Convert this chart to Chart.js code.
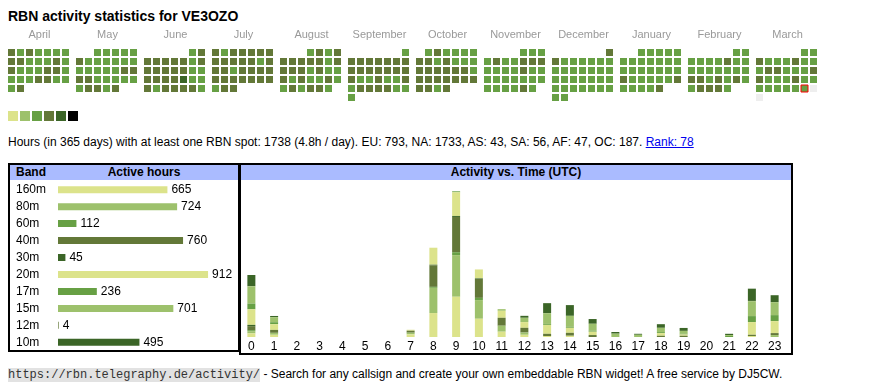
<!DOCTYPE html>
<html>
<head>
<meta charset="utf-8">
<script src="https://cdn.jsdelivr.net/npm/chart.js@4.4.1/dist/chart.umd.min.js"></script>
<style>
  body { margin: 0; background: #fff; color: #000; font-family: "Liberation Sans", Arial, sans-serif; font-size: 12px; }
  .abs { position: absolute; }
  h1 { position: absolute; left: 8px; top: 8px; margin: 0; font-size: 14px; line-height: 16px; font-weight: bold; }
  .info { left: 8px; top: 135px; line-height: 14px; white-space: nowrap; }
  .info a { color: #00e; }
  .box { border: 2px solid #000; box-sizing: border-box; }
  .head { position: absolute; left: 0; right: 0; top: 0; height: 15px; line-height: 15px; background: #aabbff; font-weight: bold; }
  .foot { left: 8px; top: 367px; line-height: 14px; white-space: nowrap; }
  .foot code { font-family: "Liberation Mono", monospace; font-size: 12px; background: #e2e2e2; color: #333; }
</style>
</head>
<body>
<h1>RBN activity statistics for VE3OZO</h1>
<canvas id="calendar" class="abs" style="left:0;top:26px" width="870" height="100"></canvas>
<div class="abs info">Hours (in 365 days) with at least one RBN spot: 1738 (4.8h / day). EU: 793, NA: 1733, AS: 43, SA: 56, AF: 47, OC: 187. <a href="#">Rank: 78</a></div>

<div class="abs box" style="left:8px;top:163px;width:232px;height:189px">
  <div class="head"><span class="abs" style="left:6px">Band</span><span class="abs" style="left:40px;width:188px;text-align:center">Active hours</span></div>
</div>
<canvas id="bands" class="abs" style="left:10px;top:174px" width="228" height="184"></canvas>

<div class="abs box" style="left:239px;top:163px;width:554px;height:192px">
  <div class="head" style="text-align:center">Activity vs. Time (UTC)</div>
</div>
<canvas id="activity" class="abs" style="left:240px;top:181px" width="546" height="173"></canvas>

<div class="abs foot"><code>https://rbn.telegraphy.de/activity/</code> - Search for any callsign and create your own embeddable RBN widget! A free service by DJ5CW.</div>

<script>
(function () {
  "use strict";

  // calendar: one string per month, one digit per day (activity level, 0 = no data yet)
  const months = ['April', 'May', 'June', 'July', 'August', 'September',
                  'October', 'November', 'December', 'January', 'February', 'March'];
  const firstYear = 2024, firstMonth = 3;
  const dayLevels = [
    '4343333 4433343 4333443 3334433 34',
    '33333 4333333 3333344 4433333 34434',
    '34 4444434 4444433 4444533 4344443',
    '4344444 4444434 4434444 4444444 344',
    '3434 4444434 4443433 4343343 343443',
    '3 4444444 4444444 4334334 3444433 3',
    '343333 4434333 4444443 4444444 4434',
    '333 3433444 3333433 3333333 333343',
    '4 4333333 3333333 3333333 3333333 33',
    '33333 3333333 3333333 4333334 33334',
    '33 3333433 3333333 4434343 34443',
    '33 4333433 3443334 4333433 3333330 0'
  ];
  const today = {month: 11, day: 29};
  const levelColors = ['#dce38b', '#9dc16c', '#67a044', '#637838', '#3b6527', '#000000'];

  // band table
  const bands = ['160m', '80m', '60m', '40m', '30m', '20m', '17m', '15m', '12m', '10m'];
  const bandHours = [665, 724, 112, 760, 45, 912, 236, 701, 4, 495];
  const bandColors = ['#dce38b', '#9dc16c', '#67a044', '#637838', '#3b6527',
                      '#dce38b', '#67a044', '#9dc16c', '#637838', '#3b6527'];

  // activity per UTC hour, per band
  const hours = ['0','1','2','3','4','5','6','7','8','9','10','11','12','13','14','15','16','17','18','19','20','21','22','23'];
  const h160m = [26, 16, 0, 0, 0, 0, 0, 19, 172, 289, 131, 38, 16, 7, 9, 0, 0, 0, 0, 0, 0, 0, 7, 0];
  const h80m  = [16, 14, 0, 0, 0, 0, 0, 12, 181, 299, 134, 43, 16, 0, 0, 0, 0, 0, 0, 0, 0, 0, 0, 14];
  const h60m  = [7, 0, 0, 0, 0, 0, 0, 0, 7, 21, 16, 0, 0, 0, 0, 0, 0, 0, 0, 0, 0, 0, 0, 0];
  const h40m  = [29, 21, 0, 0, 0, 0, 0, 14, 155, 253, 136, 57, 34, 16, 21, 14, 0, 0, 9, 9, 0, 0, 9, 14];
  const h30m  = [9, 0, 0, 0, 0, 0, 0, 0, 4, 7, 4, 0, 0, 0, 0, 0, 0, 0, 0, 0, 0, 0, 0, 0];
  const h20m  = [112, 41, 0, 0, 0, 0, 0, 7, 122, 170, 64, 50, 41, 64, 36, 24, 0, 0, 19, 9, 0, 0, 91, 86];
  const h17m  = [41, 14, 0, 0, 0, 0, 0, 0, 0, 7, 0, 0, 0, 7, 7, 7, 0, 0, 7, 5, 0, 7, 43, 43];
  const h15m  = [124, 36, 0, 0, 0, 0, 0, 0, 0, 0, 0, 12, 31, 77, 79, 50, 24, 16, 31, 21, 0, 7, 107, 93];
  const h12m  = [2, 0, 0, 0, 0, 0, 0, 0, 0, 0, 0, 0, 0, 0, 0, 0, 0, 0, 0, 0, 0, 0, 2, 0];
  const h10m  = [79, 9, 0, 0, 0, 0, 0, 0, 0, 0, 0, 0, 14, 72, 77, 34, 12, 7, 26, 21, 0, 9, 88, 50];
  const perBand = [h160m, h80m, h60m, h40m, h30m, h20m, h17m, h15m, h12m, h10m];

  Chart.defaults.font.family = '"Liberation Sans", Arial, sans-serif';
  Chart.defaults.font.size = 12;
  Chart.defaults.color = '#000';
  Chart.defaults.animation = false;
  Chart.defaults.plugins.legend.display = false;
  Chart.defaults.plugins.tooltip.enabled = false;

  // ---- calendar heatmap (scales in page pixels) ----
  const calLeft = 8, monthStride = 68, pitch = 9, cell = 7, rowTop = 49;
  const cells = [];
  dayLevels.forEach((str, m) => {
    const lv = str.replace(/ /g, '');
    const offset = (new Date(firstYear, firstMonth + m, 1).getDay() + 6) % 7;
    for (let i = 0; i < lv.length; i++) {
      const slot = offset + i;
      cells.push({
        x: calLeft + monthStride * m + pitch * (slot % 7) + cell / 2,
        y: rowTop + pitch * Math.floor(slot / 7) + cell / 2,
        level: +lv[i],
        today: m === today.month && i + 1 === today.day
      });
    }
  });
  const legendCells = levelColors.map((c, i) => ({x: 13 + 12 * i, y: 116, level: i + 1}));

  new Chart(document.getElementById('calendar'), {
    type: 'scatter',
    data: {
      datasets: [
        {
          data: cells,
          pointStyle: 'rect',
          pointRadius: cell / Math.SQRT2,
          pointHoverRadius: cell / Math.SQRT2,
          backgroundColor: c => c.raw && c.raw.level ? levelColors[c.raw.level - 1] : '#eeeeee',
          borderColor: '#ff0000',
          borderWidth: c => c.raw && c.raw.today ? 1 : 0
        },
        {
          data: legendCells,
          pointStyle: 'rect',
          pointRadius: 10 / Math.SQRT2,
          pointHoverRadius: 10 / Math.SQRT2,
          backgroundColor: c => c.raw ? levelColors[c.raw.level - 1] : '#000',
          borderWidth: 0
        }
      ]
    },
    options: {
      responsive: false,
      events: [],
      layout: {autoPadding: false},
      scales: {
        x: {
          type: 'linear', position: 'top', min: 0, max: 870,
          grid: {display: false, drawTicks: false}, border: {display: false},
          afterBuildTicks: s => { s.ticks = months.map((_, m) => ({value: calLeft + monthStride * m + 31.5})); },
          afterFit: s => { s.height = 20; },
          ticks: {
            autoSkip: false, maxRotation: 0, padding: 4, color: '#999', font: {size: 11},
            callback: (v, i) => months[i]
          }
        },
        y: {type: 'linear', min: 46, max: 126, reverse: true, display: false}
      }
    }
  });

  // ---- band table bars ----
  const valueLabels = {
    id: 'valueLabels',
    afterDatasetsDraw(chart) {
      const ctx = chart.ctx;
      ctx.save();
      ctx.font = '12px "Liberation Sans", Arial, sans-serif';
      ctx.fillStyle = '#000';
      ctx.textBaseline = 'middle';
      chart.getDatasetMeta(0).data.forEach((bar, i) => ctx.fillText(bandHours[i], bar.x + 4, bar.y));
      ctx.restore();
    }
  };

  new Chart(document.getElementById('bands'), {
    type: 'bar',
    data: {
      labels: bands,
      datasets: [{data: bandHours, backgroundColor: bandColors, barThickness: 7, borderWidth: 0, inflateAmount: 0}]
    },
    options: {
      responsive: false,
      events: [],
      indexAxis: 'y',
      layout: {padding: {left: 6}},
      scales: {
        x: {display: false, min: 0, max: 1094},
        y: {
          grid: {display: false, drawTicks: false}, border: {display: false},
          afterFit: s => { s.width = 42; },
          ticks: {crossAlign: 'far', padding: 0, autoSkip: false}
        }
      }
    },
    plugins: [valueLabels]
  });

  // ---- activity vs. time ----
  new Chart(document.getElementById('activity'), {
    type: 'bar',
    data: {
      labels: hours,
      datasets: bands.map((b, i) => ({
        label: b,
        data: perBand[i],
        backgroundColor: bandColors[i],
        barThickness: 8,
        borderWidth: 0,
        inflateAmount: 0
      }))
    },
    options: {
      responsive: false,
      events: [],
      scales: {
        x: {
          stacked: true,
          grid: {display: false, drawTicks: false}, border: {display: false},
          afterFit: s => { s.height = 17; },
          ticks: {autoSkip: false, maxRotation: 0, padding: 2}
        },
        y: {stacked: true, display: false, min: 0, max: 1120}
      }
    }
  });
})();
</script>
</body>
</html>
